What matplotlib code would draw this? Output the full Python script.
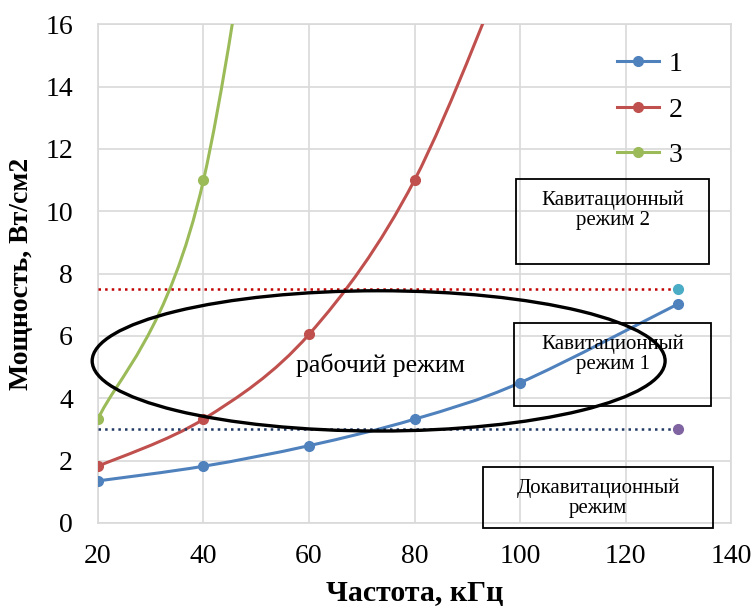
import matplotlib
matplotlib.use("Agg")
import matplotlib.pyplot as plt
from matplotlib.path import Path
from matplotlib.patches import PathPatch, Ellipse, Rectangle
from matplotlib.lines import Line2D

plt.rcParams["font.family"] = ["Liberation Serif", "DejaVu Serif"]

# data (last points of 2 and 3 lie above the visible range)
freq1 = [20, 40, 60, 80, 100, 130]
power1 = [1.35, 1.82, 2.48, 3.33, 4.5, 7.03]
freq2 = [20, 40, 60, 80, 100]
power2 = [1.82, 3.33, 6.05, 11.0, 19.0]
freq3 = [20, 40, 60]
power3 = [3.33, 11.0, 33.0]
labels = ["1", "2", "3"]
colors = ["#4F81BD", "#C0504D", "#9BBB59"]
visible = [6, 4, 2]  # how many markers are shown per series

limit_hi = 7.5
limit_lo = 3.0
limit_x = [20, 130]


def smooth_path(xs, ys):
    # excel-like smoothed line: cubic bezier with catmull-rom tangents
    pts = list(zip(xs, ys))
    n = len(pts)
    verts = [pts[0]]
    codes = [Path.MOVETO]
    for i in range(n - 1):
        p0 = pts[i - 1] if i > 0 else pts[i]
        p1 = pts[i]
        p2 = pts[i + 1]
        p3 = pts[i + 2] if i + 2 < n else pts[i + 1]
        c1 = (p1[0] + (p2[0] - p0[0]) / 6, p1[1] + (p2[1] - p0[1]) / 6)
        c2 = (p2[0] - (p3[0] - p1[0]) / 6, p2[1] - (p3[1] - p1[1]) / 6)
        verts += [c1, c2, p2]
        codes += [Path.CURVE4] * 3
    return Path(verts, codes)


fig = plt.figure(figsize=(7.56, 6.06), dpi=100)
ax = fig.add_axes([0.1296, 0.137, 0.8374, 0.823])

ax.set_xlim(20, 140)
ax.set_ylim(0, 16)
ax.set_xticks(range(20, 141, 20))
ax.set_yticks(range(0, 17, 2))
ax.grid(True, color="#D9D9D9", linewidth=1.2)
ax.set_axisbelow(True)
for s in ax.spines.values():
    s.set_color("#D9D9D9")
    s.set_linewidth(1.2)
ax.tick_params(length=0, labelsize=20)
ax.tick_params(axis="x", pad=15)
ax.tick_params(axis="y", pad=18)

handles = []
for xs, ys, c, lab, nv in zip([freq1, freq2, freq3], [power1, power2, power3],
                              colors, labels, visible):
    ax.add_patch(PathPatch(smooth_path(xs, ys), fill=False, edgecolor=c,
                           linewidth=2.2, zorder=3))
    ax.plot(xs[:nv], ys[:nv], "o", color=c, markersize=7, zorder=4)
    handles.append(Line2D([], [], color=c, marker="o", markersize=7,
                          linewidth=2.2, label=lab))

# boundary lines
ax.plot(limit_x, [limit_hi, limit_hi], ":", color="#C00000", linewidth=1.8, zorder=3)
ax.plot(limit_x[-1], limit_hi, "o", color="#4BACC6", markersize=7, zorder=4)
ax.plot(limit_x, [limit_lo, limit_lo], ":", color="#1F3864", linewidth=1.8, zorder=3)
ax.plot(limit_x[-1], limit_lo, "o", color="#8064A2", markersize=7, zorder=4)

# working region ellipse
ax.add_patch(Ellipse((73.2, 5.2), 108.6, 4.5, fill=False, edgecolor="black",
                     linewidth=2.4, zorder=5, clip_on=False))
ax.text(73.5, 5.07, "рабочий режим", fontsize=18.5, ha="center", va="center",
        zorder=6)

# region boxes
boxes = [
    (99.2, 8.30, 36.6, 2.73, "Кавитационный\nрежим 2", 117.6, 10.04),
    (98.9, 3.75, 37.3, 2.66, "Кавитационный\nрежим 1", 117.6, 5.42),
    (93.0, -0.16, 43.6, 1.96, "Докавитационный\nрежим", 114.8, 0.8),
]
for x0, y0, w, h, txt, tx, ty in boxes:
    ax.add_patch(Rectangle((x0, y0), w, h, facecolor="none", edgecolor="black",
                           linewidth=1.3, zorder=6, clip_on=False))
    ax.text(tx, ty, txt, fontsize=15, ha="center", va="center",
            linespacing=1.1, zorder=7)

ax.legend(handles=handles, loc="upper right", bbox_to_anchor=(0.963, 0.995),
          frameon=False, fontsize=20, handlelength=1.5, labelspacing=0.72,
          handletextpad=0.35)

ax.set_xlabel("Частота, кГц", fontsize=21.5, fontweight="bold", labelpad=8)
ax.set_ylabel("Мощность, Вт/см2", fontsize=20, fontweight="bold", labelpad=8)

fig.savefig("out.png", dpi=100)
